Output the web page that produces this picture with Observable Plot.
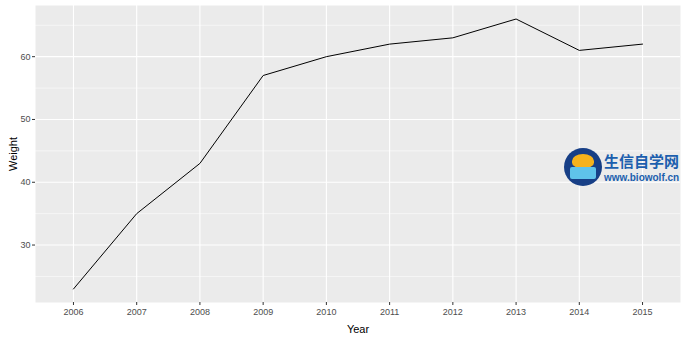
<!DOCTYPE html>
<html><head><meta charset="utf-8">
<script src="https://cdn.jsdelivr.net/npm/d3@7"></script>
<script src="https://cdn.jsdelivr.net/npm/@observablehq/plot@0.6"></script>
<style>
body{margin:0;background:#fff;font-family:Arial,"Liberation Sans",sans-serif;}
#wrap{position:relative;width:686px;height:337px;}
#logo{position:absolute;left:564px;top:148px;width:38px;height:38px;border-radius:50%;background:#173f86;}
#logo .face{position:absolute;left:8px;top:6px;width:22px;height:14px;background:#f5b21c;border-radius:50% 50% 40% 40%;}
#logo .book{position:absolute;left:6px;top:19px;width:26px;height:12px;background:#5fc3ea;border-radius:2px;}
#wm1{position:absolute;left:604px;top:153px;font:bold 15px "Noto Sans CJK SC",sans-serif;color:#1c5fae;letter-spacing:0px;line-height:16px;white-space:nowrap;}
#wm2{position:absolute;left:604px;top:172px;font:bold 10px Arial,"Liberation Sans",sans-serif;color:#1c5fae;line-height:12px;white-space:nowrap;}
</style>
</head><body>
<div id="wrap"></div>
<script>
const years = [2006, 2007, 2008, 2009, 2010, 2011, 2012, 2013, 2014, 2015];
const weights = [23, 35, 43, 57, 60, 62, 63, 66, 61, 62];
const yMajor = [30, 40, 50, 60];
const yMinor = [25, 35, 45, 55, 65];

const data = years.map((y, i) => ({Year: y, Weight: weights[i]}));
const yMin = d3.min(weights), yMax = d3.max(weights);
const yPad = (yMax - yMin) * 0.05;
const xPad = (d3.max(years) - d3.min(years)) * 0.0667;

const chart = Plot.plot({
  width: 686, height: 337,
  marginLeft: 35, marginRight: 6, marginTop: 5, marginBottom: 35,
  style: {fontFamily: "Arial, 'Liberation Sans', sans-serif", fontSize: "9px", background: "white"},
  x: {domain: [d3.min(years) - xPad, d3.max(years) + xPad]},
  y: {domain: [yMin - yPad, yMax + yPad]},
  marks: [
    Plot.frame({fill: "#EBEBEB", stroke: null}),
    Plot.ruleY(yMinor, {stroke: "white", strokeWidth: 0.55}),
    Plot.ruleY(yMajor, {stroke: "white", strokeWidth: 1.1}),
    Plot.ruleX(years, {stroke: "white", strokeWidth: 1.1}),
    Plot.line(data, {x: "Year", y: "Weight", stroke: "black", strokeWidth: 1}),
    Plot.axisX({ticks: years, tickFormat: d => String(d), tickSize: 3, tickPadding: 3, color: "#4D4D4D", stroke: "#333333",
      label: "Year", labelAnchor: "center", labelArrow: "none", labelOffset: 30, fontSize: 9}),
    Plot.axisY({ticks: yMajor, tickSize: 3, tickPadding: 2, color: "#4D4D4D",
      label: "Weight", labelAnchor: "center", labelArrow: "none", labelOffset: 26, fontSize: 9})
  ]
});
chart.querySelectorAll("[aria-label='x-axis label'] text, [aria-label='y-axis label'] text").forEach(t => {
  t.setAttribute("fill", "black"); t.style.fontSize = "11px";
});
chart.querySelectorAll("[aria-label='x-axis tick'] path, [aria-label='y-axis tick'] path").forEach(p => p.setAttribute("stroke", "#333333"));
const wrap = document.getElementById("wrap");
wrap.appendChild(chart);
wrap.insertAdjacentHTML("beforeend",
  '<div id="logo"><div class="face"></div><div class="book"></div></div><div id="wm1">生信自学网</div><div id="wm2">www.biowolf.cn</div>');
</script>
</body></html>
